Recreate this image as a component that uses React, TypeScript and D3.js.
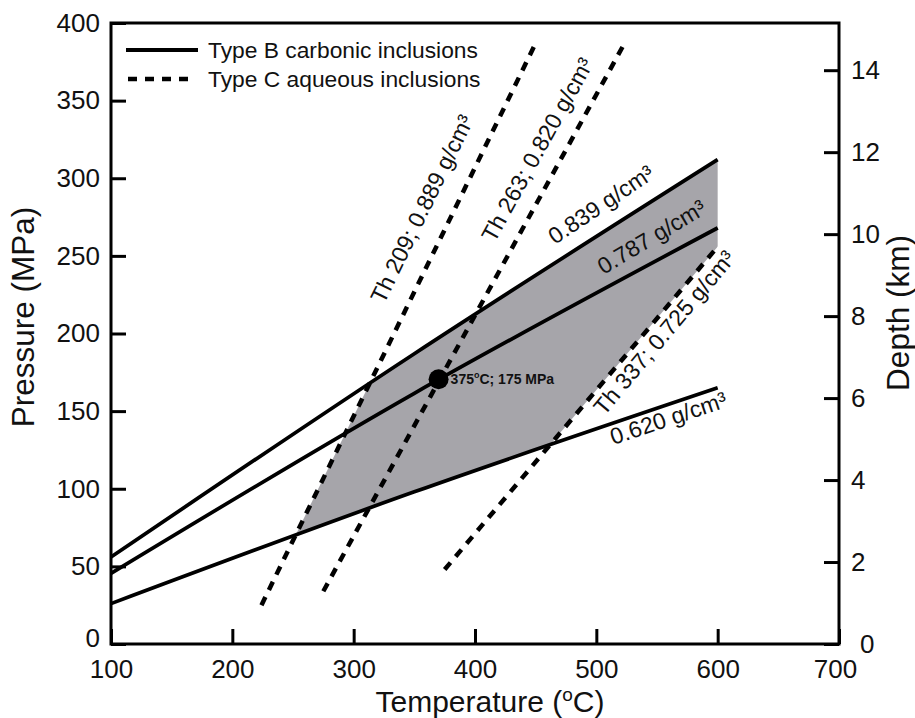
import { useEffect, useRef } from 'react';
import * as d3 from 'd3';

const WIDTH = 915;
const HEIGHT = 718;
const margin = { top: 23, right: 76, bottom: 74, left: 111 };
const FONT = "'Liberation Sans', Arial, Helvetica, sans-serif";

// axes
const tempTicks = [100, 200, 300, 400, 500, 600, 700];
const pressureTicks = [0, 50, 100, 150, 200, 250, 300, 350, 400];
const depthTicks = [0, 2, 4, 6, 8, 10, 12, 14];
const mpaPerKm = 26.4;

// Type B carbonic (CO2) isochores, pressure read at these temperatures
const isoTemps = [100, 350, 600];
const iso839 = [56, 187, 312];
const iso787 = [45.5, 161.5, 268];
const iso620 = [26, 98, 165];

// Type C aqueous isochores, end points
const th209Temps = [224, 450];
const th209Press = [25, 387];
const th263Temps = [275, 524];
const th263Press = [34, 388];
const th337Temps = [375, 599];
const th337Press = [48, 255];

// estimated trapping condition
const trapTemp = 370;
const trapPress = 170.5;

const x = d3.scaleLinear().domain([100, 700]).range([margin.left, WIDTH - margin.right]);
const y = d3.scaleLinear().domain([0, 400]).range([HEIGHT - margin.bottom, margin.top]);
const yDepth = d3.scaleLinear().domain([0, 400 / mpaPerKm]).range([HEIGHT - margin.bottom, margin.top]);

const zip = (ts: number[], ps: number[]) => ts.map((t, i) => [t, ps[i]] as [number, number]);

const solidLine = d3.line<[number, number]>()
  .x(d => x(d[0]))
  .y(d => y(d[1]))
  .curve(d3.curveNatural);

const straightLine = d3.line<[number, number]>()
  .x(d => x(d[0]))
  .y(d => y(d[1]));

// shaded field between the 0.620 and 0.839 isochores
const shadeArea = d3.area<number>()
  .x((_, i) => x(isoTemps[i]))
  .y0((_, i) => y(iso620[i]))
  .y1((_, i) => y(iso839[i]))
  .curve(d3.curveNatural);

// P -> T along the aqueous isochores (extrapolated for the clip)
const t209 = d3.scaleLinear().domain(th209Press).range(th209Temps);
const t337 = d3.scaleLinear().domain(th337Press).range(th337Temps);
const clipPoly = [
  [t209(0), 0], [t209(400), 400], [t337(400), 400], [t337(0), 0],
].map(d => [x(d[0]), y(d[1])].join(',')).join(' ');

const labels = [
  { text: 'Th 209; 0.889 g/cm³', t: 325, p: 218.5, angle: -64 },
  { text: 'Th 263; 0.820 g/cm³', t: 416, p: 258, angle: -61 },
  { text: '0.839 g/cm³', t: 466, p: 257, angle: -34 },
  { text: '0.787 g/cm³', t: 506, p: 237.7, angle: -31 },
  { text: 'Th 337; 0.725 g/cm³', t: 506.5, p: 146.5, angle: -50 },
  { text: '0.620 g/cm³', t: 514, p: 128.2, angle: -18.5 },
];

function App() {
  const xAxisRef = useRef<SVGGElement>(null);
  const yAxisRef = useRef<SVGGElement>(null);
  const depthAxisRef = useRef<SVGGElement>(null);

  useEffect(() => {
    const style = (g: any) => {
      g.select('.domain').remove();
      g.attr('font-family', FONT).attr('font-size', 26);
      g.selectAll('line').attr('stroke', '#000').attr('stroke-width', 3);
      g.selectAll('text').attr('fill', '#111');
    };

    const gx = d3.select(xAxisRef.current!)
      .call(d3.axisBottom(x).tickValues(tempTicks).tickSize(-15).tickPadding(16) as any);
    style(gx);
    gx.selectAll('.tick text').filter((d: any) => d === 700).attr('dx', -4);

    const gy = d3.select(yAxisRef.current!)
      .call(d3.axisLeft(y).tickValues(pressureTicks).tickSize(-15).tickPadding(11) as any);
    style(gy);
    gy.selectAll('.tick text').filter((d: any) => d === 0).attr('y', -6);

    const gd = d3.select(depthAxisRef.current!)
      .call(d3.axisRight(yDepth).tickValues(depthTicks).tickSize(-15).tickPadding(12) as any);
    style(gd);
    gd.selectAll('.tick text').filter((d: any) => d === 0).attr('dx', 9);
  }, []);

  const plotW = WIDTH - margin.left - margin.right;
  const plotH = HEIGHT - margin.top - margin.bottom;

  return (
    <svg width={WIDTH} height={HEIGHT} style={{ position: 'absolute', left: 0, top: 0, background: '#fff' }} fontFamily={FONT}>
      <defs>
        <clipPath id="fieldClip">
          <polygon points={clipPoly} />
        </clipPath>
      </defs>

      {/* shaded P-T field */}
      <path d={shadeArea(isoTemps) ?? ''} fill="#a6a5aa" clipPath="url(#fieldClip)" />

      {/* carbonic isochores */}
      {[iso839, iso787, iso620].map((ps, i) => (
        <path key={i} d={solidLine(zip(isoTemps, ps)) ?? ''} fill="none" stroke="#000" strokeWidth={3.7} />
      ))}

      {/* aqueous isochores */}
      {[[th209Temps, th209Press], [th263Temps, th263Press], [th337Temps, th337Press]].map(([ts, ps], i) => (
        <path key={i} d={straightLine(zip(ts, ps)) ?? ''} fill="none" stroke="#000" strokeWidth={4.5} strokeDasharray="9,8" />
      ))}

      {/* trapping point */}
      <circle cx={x(trapTemp)} cy={y(trapPress)} r={10} fill="#000" />
      <text x={x(trapTemp) + 12} y={y(trapPress) + 5} fontSize={14} fontWeight="bold" fill="#111">
        375<tspan fontSize={9} dy={-6}>o</tspan><tspan dy={6}>C; 175 MPa</tspan>
      </text>

      {/* line labels */}
      {labels.map((l, i) => (
        <text key={i} transform={`translate(${x(l.t)},${y(l.p)}) rotate(${l.angle})`} fontSize={23} fill="#111">
          {l.text}
        </text>
      ))}

      {/* legend */}
      <line x1={126} x2={198} y1={50} y2={50} stroke="#000" strokeWidth={4} />
      <text x={208} y={58} fontSize={22.8} fill="#111">Type B carbonic inclusions</text>
      <line x1={128} x2={195} y1={79} y2={79} stroke="#000" strokeWidth={4.5} strokeDasharray="9,8" />
      <text x={208} y={87} fontSize={22.8} fill="#111">Type C aqueous inclusions</text>

      {/* frame and axes */}
      <rect x={margin.left} y={margin.top} width={plotW} height={plotH} fill="none" stroke="#000" strokeWidth={3} />
      <g ref={xAxisRef} transform={`translate(0,${HEIGHT - margin.bottom})`} />
      <g ref={yAxisRef} transform={`translate(${margin.left},0)`} />
      <g ref={depthAxisRef} transform={`translate(${WIDTH - margin.right},0)`} />

      {/* axis titles */}
      <text x={490} y={711.5} textAnchor="middle" fontSize={30} fill="#111">
        Temperature (<tspan fontSize={19} dy={-11}>o</tspan><tspan dy={11}>C)</tspan>
      </text>
      <text transform="translate(34,317) rotate(-90)" textAnchor="middle" fontSize={31.5} fill="#111">
        Pressure (MPa)
      </text>
      <text transform="translate(909,313) rotate(-90)" textAnchor="middle" fontSize={31.5} fill="#111">
        Depth (km)
      </text>
    </svg>
  );
}

export default App;
